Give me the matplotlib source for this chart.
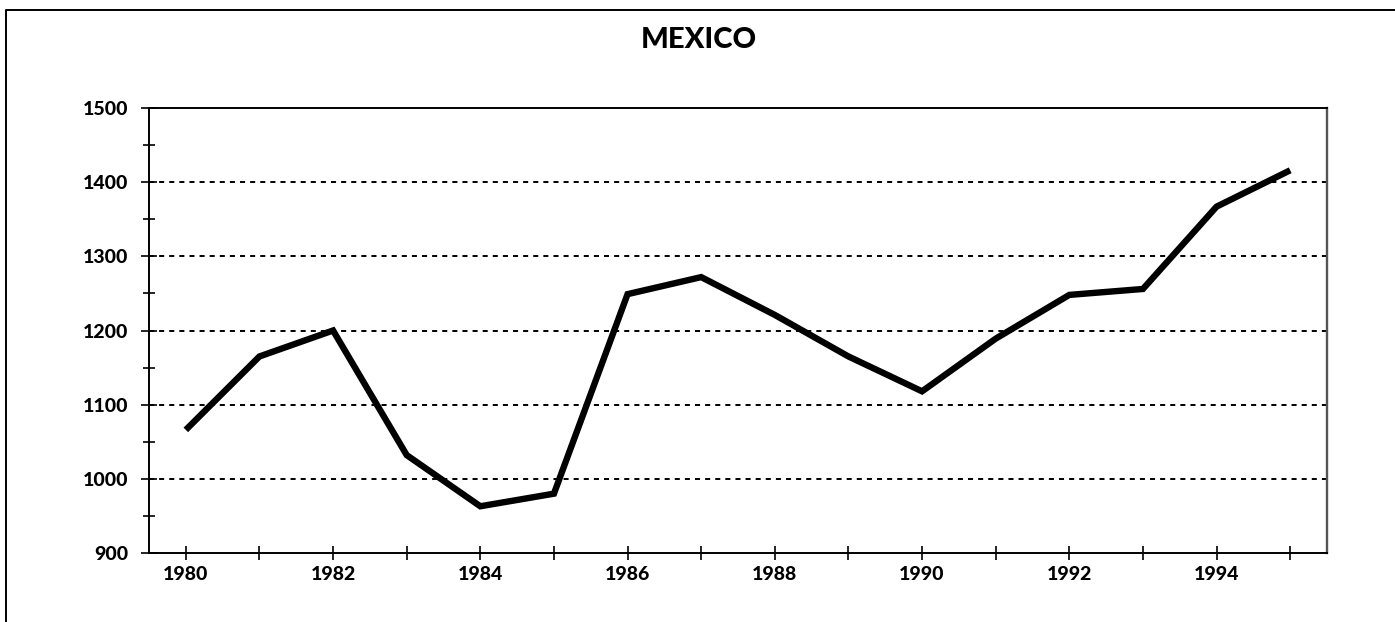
import matplotlib
matplotlib.use("Agg")
import matplotlib.pyplot as plt
from matplotlib.lines import Line2D
from matplotlib.ticker import MultipleLocator, FixedLocator

plt.rcParams['font.family'] = ['Lato', 'DejaVu Sans']

title = "MEXICO"
years = [1980, 1981, 1982, 1983, 1984, 1985, 1986, 1987, 1988, 1989,
         1990, 1991, 1992, 1993, 1994, 1995]
values = [1066, 1165, 1200, 1032, 963, 980, 1249, 1272, 1221, 1165,
          1118, 1189, 1248, 1256, 1367, 1416]
x_labels = [1980, 1982, 1984, 1986, 1988, 1990, 1992, 1994]
y_ticks = [900, 1000, 1100, 1200, 1300, 1400, 1500]

W, H = 1395, 622
fig = plt.figure(figsize=(W / 100, H / 100), dpi=100)
ax = fig.add_axes([149 / W, 1 - 553 / H, (1327 - 149) / W, (553 - 108) / H])

# outer frame (extends beyond the image at right and bottom)
fx = 6 / W
fy = 1 - 10 / H
fig.add_artist(Line2D([fx, fx, 1.0], [0.0, fy, fy], transform=fig.transFigure,
                      color='black', lw=1.4))

ax.plot(years, values, color='black', lw=4.6, solid_joinstyle='miter',
        solid_capstyle='butt', zorder=3)

ax.set_xlim(1979.5, 1995.5)
ax.set_ylim(900, 1500)

ax.xaxis.set_major_locator(FixedLocator(x_labels))
ax.xaxis.set_minor_locator(MultipleLocator(1))
ax.set_xticklabels([str(v) for v in x_labels])
ax.yaxis.set_major_locator(FixedLocator(y_ticks))
ax.yaxis.set_minor_locator(MultipleLocator(50))

for yv in y_ticks[1:-1]:
    ax.axhline(yv, color='black', lw=1.4, linestyle=(0, (2.6, 2.6)), zorder=1)

ax.tick_params(axis='x', which='both', direction='inout', length=10, width=1.2,
               pad=4, labelsize=14)
ax.tick_params(axis='y', which='major', direction='inout', length=12, width=1.2,
               pad=9, labelsize=14)
ax.tick_params(axis='y', which='minor', direction='inout', length=9, width=1.2)
for lbl in ax.get_xticklabels() + ax.get_yticklabels():
    lbl.set_fontweight('black')

for side in ['left', 'bottom', 'top']:
    ax.spines[side].set_linewidth(1.4)
    ax.spines[side].set_color('black')
ax.spines['right'].set_linewidth(1.7)
ax.spines['right'].set_color('#555555')

fig.text(699 / W, 1 - 40 / H, title, ha='center', va='center',
         fontsize=21, fontweight='black')

fig.savefig("out.png", dpi=100)
